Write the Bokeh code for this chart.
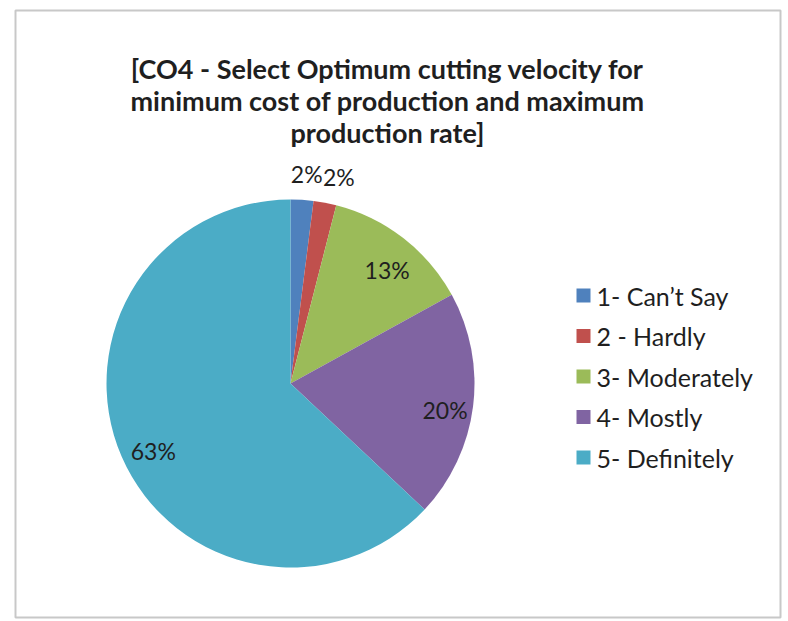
import math
from bokeh.plotting import figure
from bokeh.models import Range1d, ColumnDataSource
from bokeh.core.properties import value
from bokeh.embed import file_html
from bokeh.resources import INLINE

# ---- data ----
categories = ["1- Can\u2019t Say", "2 - Hardly", "3- Moderately", "4- Mostly", "5- Definitely"]
percent = [2, 2, 13, 20, 63]
colors = ["#4F81BD", "#C0504D", "#9BBB59", "#8064A2", "#4BACC6"]
title_lines = ["[CO4 - Select Optimum cutting velocity for",
               "minimum cost of production and maximum",
               "production rate]"]

W, H = 788, 621
FONT = "Lato"

def X(px):
    return px

def Y(py):
    return H - py

p = figure(width=W, height=H, output_backend="svg", toolbar_location=None,
           x_range=Range1d(0, W), y_range=Range1d(0, H), min_border=0,
           outline_line_color=None, background_fill_color="white")
p.axis.visible = False
p.grid.visible = False

# frame
p.quad(left=[X(15)], right=[X(780)], bottom=[Y(617)], top=[Y(10)],
       fill_color=None, line_color="#C8C8C8", line_width=2)

# pie
cx, cy, R = 290, 383, 184
total = float(sum(percent))
starts, ends, mids = [], [], []
cum = 0.0
for v in percent:
    a0 = math.pi / 2 - 2 * math.pi * cum / total
    cum += v
    a1 = math.pi / 2 - 2 * math.pi * cum / total
    starts.append(a0)
    ends.append(a1)
    mids.append((a0 + a1) / 2)

src = ColumnDataSource(dict(start=starts, end=ends, color=colors, cat=categories))
p.wedge(x=X(cx), y=Y(cy), radius=R, radius_units="screen", start_angle="start", end_angle="end",
        direction="clock", fill_color="color", line_color=None, source=src)

# data labels
lx, ly, lt = [], [], []
for v, m in zip(percent, mids):
    if v < 5:   # small slices: label outside
        lx.append(X(cx) + 1.4 * R * math.cos(m))
        ly.append(Y(cy) + 1.14 * R * math.sin(m))
    else:
        lx.append(X(cx) + 0.83 * R * math.cos(m) + 3)
        ly.append(Y(cy) + 0.83 * R * math.sin(m) - 7)
    lt.append(f"{v}%")
p.text(x=lx, y=ly, text=lt, text_font=value(FONT), text_font_size="23px",
       text_color="#1f1f1f", text_align="center", text_baseline="middle")

# title
p.text(x=[X(387)] * 3, y=[Y(68), Y(100), Y(132)], text=title_lines,
       text_font=value(FONT), text_font_size="27px", text_font_style="bold",
       text_color="#1f1f1f", text_align="center", text_baseline="alphabetic")

# legend
leg_y = [Y(295 + 40.5 * i) for i in range(len(categories))]
p.rect(x=[X(583)] * len(categories), y=leg_y, width=14, height=14,
       width_units="screen", height_units="screen", fill_color=colors, line_color=None)
p.text(x=[X(596)] * len(categories), y=leg_y, text=categories,
       text_font=value(FONT), text_font_size="25px", text_color="#1f1f1f",
       text_align="left", text_baseline="middle")

open("out.html", "w").write(file_html(p, INLINE))
